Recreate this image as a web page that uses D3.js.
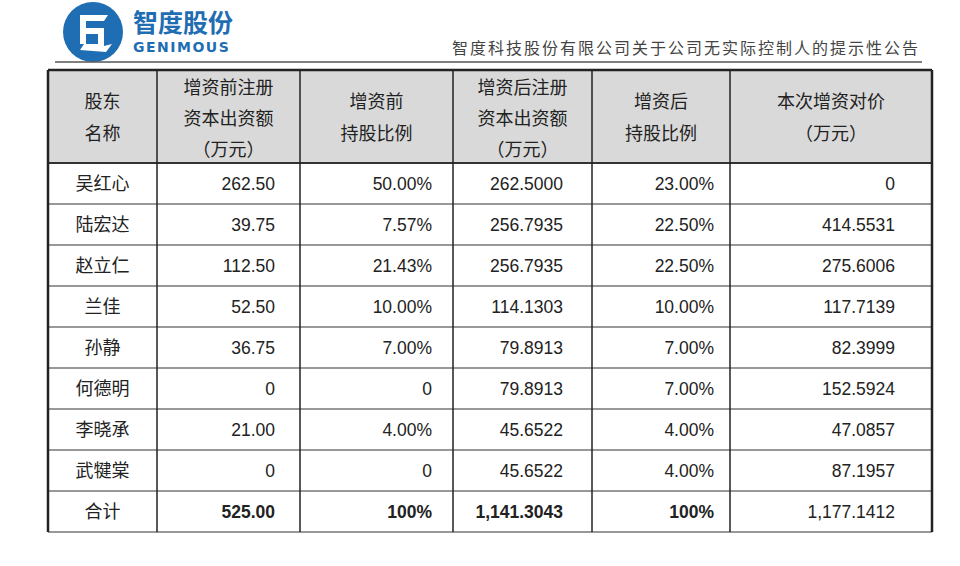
<!DOCTYPE html>
<html><head><meta charset="utf-8">
<script src="https://cdn.jsdelivr.net/npm/d3@7"></script>
<style>body{margin:0;background:#fff}</style></head>
<body><svg id="c" width="960" height="566"></svg>
<script>
const headers = [["股东","名称"],["增资前注册","资本出资额","（万元）"],["增资前","持股比例"],["增资后注册","资本出资额","（万元）"],["增资后","持股比例"],["本次增资对价","（万元）"]];
const names = ["吴红心","陆宏达","赵立仁","兰佳","孙静","何德明","李晓承","武犍棠","合计"];
const capBefore = ["262.50","39.75","112.50","52.50","36.75","0","21.00","0","525.00"];
const pctBefore = ["50.00%","7.57%","21.43%","10.00%","7.00%","0","4.00%","0","100%"];
const capAfter = ["262.5000","256.7935","256.7935","114.1303","79.8913","79.8913","45.6522","45.6522","1,141.3043"];
const pctAfter = ["23.00%","22.50%","22.50%","10.00%","7.00%","7.00%","4.00%","4.00%","100%"];
const price = ["0","414.5531","275.6006","117.7139","82.3999","152.5924","47.0857","87.1957","1,177.1412"];

const svg = d3.select("#c");
const font = "'Noto Sans CJK SC', sans-serif";
const colEdges = [48,157,300,453,592,730,932];
const rowY = d3.scaleLinear().domain([0,9]).range([163,532]);
const headTop = 70;

// logo
const blue = "#1f6db3";
svg.append("circle").attr("cx",93).attr("cy",32).attr("r",30).attr("fill",blue);
svg.append("path").attr("d","M80,15 L108,15 L104,21 L86,21 L86,28 L104,28 L104,46 L112,44 L106,52 L80,50 L84,44 L98,44 L98,34 L86,34 L86,44 L80,44 Z")
  .attr("fill","#fff");
svg.append("text").attr("x",133).attr("y",32).attr("font-family",font).attr("font-weight","bold").attr("font-size",25).attr("fill",blue).text("智度股份");
svg.append("text").attr("x",133).attr("y",52).attr("font-family","'DejaVu Sans',sans-serif").attr("font-weight","bold").attr("font-size",14).attr("letter-spacing",1.5).attr("fill",blue).text("GENIMOUS");
svg.append("text").attr("x",920).attr("y",54).attr("text-anchor","end").attr("font-family",font).attr("font-size",16).attr("letter-spacing",2).attr("fill","#444").text("智度科技股份有限公司关于公司无实际控制人的提示性公告");
svg.append("line").attr("x1",55).attr("x2",922).attr("y1",62).attr("y2",62).attr("stroke","#555").attr("stroke-width",1.5);

svg.append("rect").attr("x",48).attr("y",headTop).attr("width",884).attr("height",163-headTop).attr("fill","#d9d9d9");

headers.forEach((h,i)=>{
  const cx=(colEdges[i]+colEdges[i+1])/2;
  const n=h.length;
  h.forEach((t,j)=>{
    svg.append("text").attr("x",cx).attr("y",n===3?(94+j*31):(108+j*32))
      .attr("text-anchor","middle").attr("font-family",font).attr("font-size",18).attr("fill","#222").text(t);
  });
});

const cols=[names,capBefore,pctBefore,capAfter,pctAfter,price];
const anchorX=[(48+157)/2, 275, 432, 563, 714, 895];
cols.forEach((col,i)=>{
  col.forEach((v,r)=>{
    const isTotal=r===8;
    svg.append("text").attr("x",anchorX[i]).attr("y",rowY(r)+27)
      .attr("text-anchor",i===0?"middle":"end")
      .attr("font-family",i===0?font:"'Liberation Sans',Arial,sans-serif")
      .attr("font-weight",isTotal&&i>0&&i<5?"bold":"normal")
      .attr("font-size",i===0?18:17.5).attr("fill","#222").text(v);
  });
});

d3.range(10).forEach(r=>{
  svg.append("line").attr("x1",48).attr("x2",932).attr("y1",rowY(r)).attr("y2",rowY(r)).attr("stroke","#333").attr("stroke-width",r===0?2:1.2);
});
svg.append("line").attr("x1",48).attr("x2",932).attr("y1",headTop).attr("y2",headTop).attr("stroke","#222").attr("stroke-width",2.5);
colEdges.forEach((cx,i)=>{
  svg.append("line").attr("x1",cx).attr("x2",cx).attr("y1",headTop).attr("y2",532).attr("stroke","#222").attr("stroke-width",(i===0||i===6)?2.5:1.5);
});
</script></body></html>
